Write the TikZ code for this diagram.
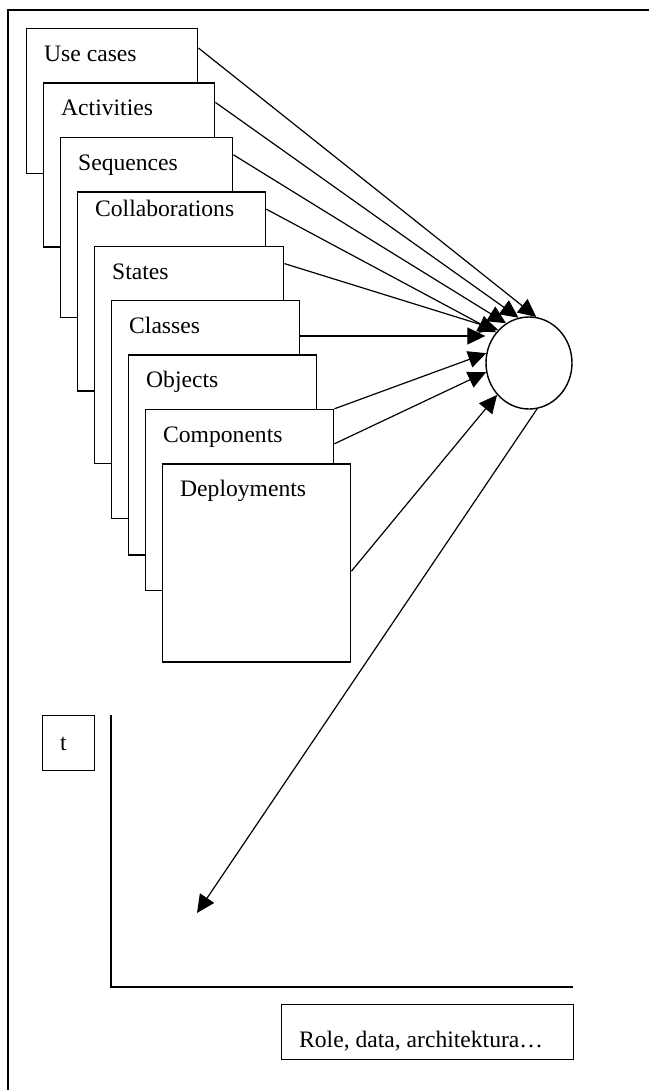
\documentclass[tikz,border=0pt]{standalone}
\usepackage{fontspec}
\setmainfont{Liberation Serif}
\usepackage{tikz}
\usetikzlibrary{positioning,arrows.meta,shapes.geometric}
\tikzset{
  panel/.style={draw, fill=white, line width=1.4pt, inner sep=0pt},
  tag/.style={anchor=base west, inner sep=0pt, xshift=18pt, yshift=#1},
  tag/.default=-33.5pt,
  arrow/.style={-{Triangle[length=18pt, width=17pt]}, line width=1.2pt},
  frame/.style={line width=1.4pt}
}

\begin{document}
\begin{tikzpicture}[x=1pt, y=-1pt, node distance=54.4pt and 17pt, font=\fontsize{23.6}{28}\selectfont]
  \useasboundingbox (0,0) rectangle (649,1090);
  \draw[frame] (649,10) -- (8,10) -- (8,1090);

  % stack of diagram kinds
  \node[panel, anchor=north west, minimum width=171pt, minimum height=145pt, label={[tag]north west:Use cases}] (use) at (26,28) {};
  \node[panel, below right=of use.north west, minimum width=171pt, minimum height=164pt, label={[tag]north west:Activities}] (act) {};
  \node[panel, below right=of act.north west, minimum width=172pt, minimum height=180pt, label={[tag]north west:Sequences}] (seq) {};
  \node[panel, below right=of seq.north west, minimum width=188pt, minimum height=199pt, label={[tag=-25pt]north west:Collaborations}] (coll) {};
  \node[panel, below right=of coll.north west, minimum width=189pt, minimum height=217pt, label={[tag]north west:States}] (sta) {};
  \node[panel, below right=of sta.north west, minimum width=188pt, minimum height=218pt, label={[tag]north west:Classes}] (cls) {};
  \node[panel, below right=of cls.north west, minimum width=188pt, minimum height=200pt, label={[tag]north west:Objects}] (obj) {};
  \node[panel, below right=of obj.north west, minimum width=188pt, minimum height=181pt, label={[tag]north west:Components}] (comp) {};
  \node[panel, below right=of comp.north west, minimum width=188pt, minimum height=198pt, label={[tag]north west:Deployments}] (dep) {};

  \node[panel, ellipse, minimum width=86pt, minimum height=92pt] (circ) at (529,363) {};

  \coordinate (clsOut) at ([yshift=-36pt]cls.north east);
  \draw[arrow] ([yshift=-20pt]use.north east) -- (circ.81);
  \draw[arrow] ([yshift=-20pt]act.north east) -- (circ.103);
  \draw[arrow] ([yshift=-18pt]seq.north east) -- (circ.120);
  \draw[arrow] ([yshift=-18pt]coll.north east) -- (circ.137);
  \draw[arrow] ([yshift=-18pt]sta.north east) -- (circ.133);
  \draw[arrow] (clsOut) -- (clsOut -| circ.west);
  \draw[arrow] (comp.north east) -- (circ.167);
  \draw[arrow] ([yshift=-35pt]comp.north east) -- (circ.192);
  \draw[arrow] ([yshift=-108pt]dep.north east) -- (circ.225);

  % time axis
  \node[panel, anchor=north west, minimum width=52pt, minimum height=55pt, label={[tag=-35pt]north west:t}] (tbox) at (42,715) {};
  \coordinate (axTop) at (111,715);
  \coordinate (axOrig) at (111,987);
  \coordinate (axEnd) at (573,987);
  \draw[frame] (axTop) -- (axOrig) -- (axEnd);
  \node[panel, anchor=north west, minimum width=292pt, minimum height=55pt, label={[tag=-43pt]north west:Role, data, architektura…}] (role) at (281,1004) {};

  \coordinate (tipT) at (197,913);
  \draw[arrow] (circ.280) -- (tipT);
\end{tikzpicture}
\end{document}
